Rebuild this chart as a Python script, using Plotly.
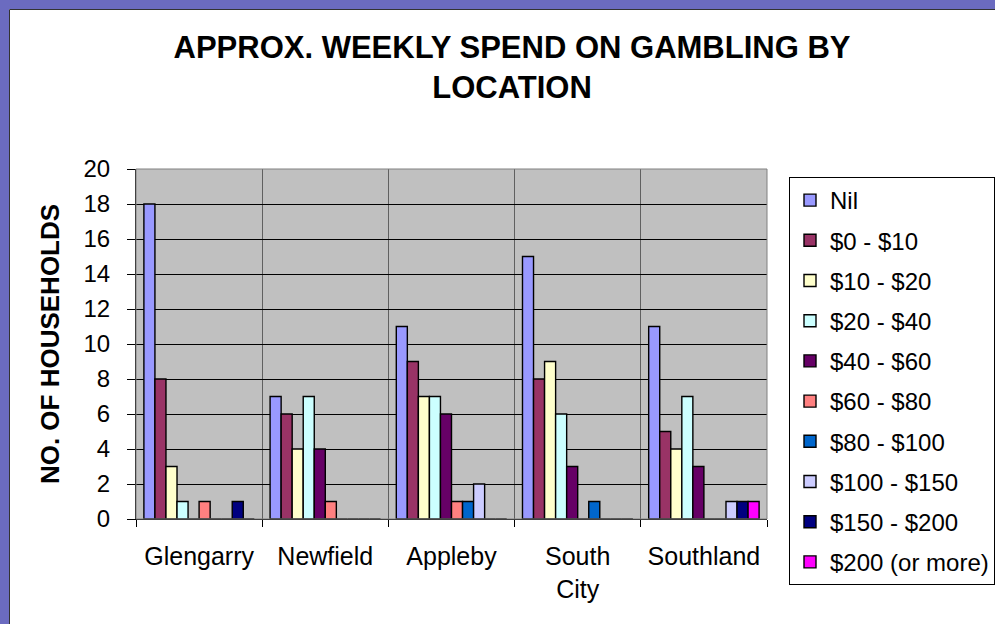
import plotly.graph_objects as go

locations = ["Glengarry", "Newfield", "Appleby", "South<br>City", "Southland"]
series_names = ["Nil", "$0 - $10", "$10 - $20", "$20 - $40", "$40 - $60",
                "$60 - $80", "$80 - $100", "$100 - $150", "$150 - $200", "$200 (or more)"]
nil = [18, 7, 11, 15, 11]
s0_10 = [8, 6, 9, 8, 5]
s10_20 = [3, 4, 7, 9, 4]
s20_40 = [1, 7, 7, 6, 7]
s40_60 = [0, 4, 6, 3, 3]
s60_80 = [1, 1, 1, 0, 0]
s80_100 = [0, 0, 1, 1, 0]
s100_150 = [0, 0, 2, 0, 1]
s150_200 = [1, 0, 0, 0, 1]
s200_plus = [0, 0, 0, 0, 1]
series_values = [nil, s0_10, s10_20, s20_40, s40_60, s60_80, s80_100, s100_150, s150_200, s200_plus]
colors = ["#9999FF", "#993366", "#FFFFCC", "#CCFFFF", "#660066",
          "#FF8080", "#0066CC", "#CCCCFF", "#000080", "#FF00FF"]
y_ticks = list(range(0, 21, 2))

FONT = "Liberation Sans, Arial, sans-serif"

fig = go.Figure()
for i, (name, vals, col) in enumerate(zip(series_names, series_values, colors)):
    fig.add_trace(go.Bar(
        x=locations, y=vals, name=name, legendgroup=f"g{i}",
        marker=dict(color=col, line=dict(color="black", width=1.4)),
    ))

W, H = 995, 624
L, R, T, B = 136, 228, 169, 105
pw, ph = W - L - R, H - T - B

def px_x(p):
    return (p - L) / pw

def px_y(p):
    return (H - B - p) / ph

shapes = [
    # blue slide background strips
    dict(type="rect", xref="paper", yref="paper", x0=px_x(-5), x1=px_x(9), y0=px_y(700), y1=px_y(-5),
         fillcolor="#6B6BC0", line=dict(width=0), layer="above"),
    dict(type="rect", xref="paper", yref="paper", x0=px_x(-5), x1=px_x(1000), y0=px_y(9), y1=px_y(-5),
         fillcolor="#6B6BC0", line=dict(width=0), layer="above"),
    dict(type="line", xref="paper", yref="paper", x0=px_x(9.5), x1=px_x(1000), y0=px_y(9.5), y1=px_y(9.5),
         line=dict(color="#333333", width=1), layer="above"),
    dict(type="line", xref="paper", yref="paper", x0=px_x(9.5), x1=px_x(9.5), y0=px_y(700), y1=px_y(9.5),
         line=dict(color="#333333", width=1), layer="above"),
    # plot area border
    dict(type="rect", xref="paper", yref="paper", x0=0, x1=1, y0=0, y1=1,
         line=dict(color="#808080", width=1), layer="above"),
]

fig.update_layout(
    width=W, height=H,
    margin=dict(l=L, r=R, t=T, b=B, autoexpand=False),
    paper_bgcolor="white", plot_bgcolor="#C0C0C0",
    font=dict(family=FONT, color="black", size=24),
    title=dict(text="<b>APPROX. WEEKLY SPEND ON GAMBLING BY<br>LOCATION</b>",
               x=512 / W, xanchor="center", xref="container",
               y=1 - 58 / H, yanchor="top", yref="container",
               font=dict(size=31, family=FONT, color="black")),
    barmode="group", bargap=0.125, bargroupgap=0,
    showlegend=True,
    legend=dict(x=px_x(789), y=px_y(177), xanchor="left", yanchor="top",
                bgcolor="white", bordercolor="black", borderwidth=1,
                font=dict(size=24, family=FONT), tracegroupgap=6,
                traceorder="grouped", maxheight=440),
    shapes=shapes,
)

fig.update_xaxes(
    type="category", tickson="boundaries", showgrid=True, gridcolor="#606060", gridwidth=1,
    ticks="outside", ticklen=7, tickcolor="black", showline=True, linecolor="black", linewidth=1,
    tickfont=dict(size=25, family=FONT), ticklabelstandoff=15,
)
fig.update_yaxes(
    range=[0, 20], tickvals=y_ticks, showgrid=True, gridcolor="black", gridwidth=1,
    ticks="outside", ticklen=8, tickcolor="black", showline=True, linecolor="black", linewidth=1,
    tickfont=dict(size=24, family=FONT), ticklabelstandoff=12, zeroline=False,
    title=dict(text="<b>NO. OF HOUSEHOLDS</b>", font=dict(size=26, family=FONT), standoff=16),
)

fig.write_html("out.html", config={"displayModeBar": False},
               post_script="document.body.style.margin='0px';")
